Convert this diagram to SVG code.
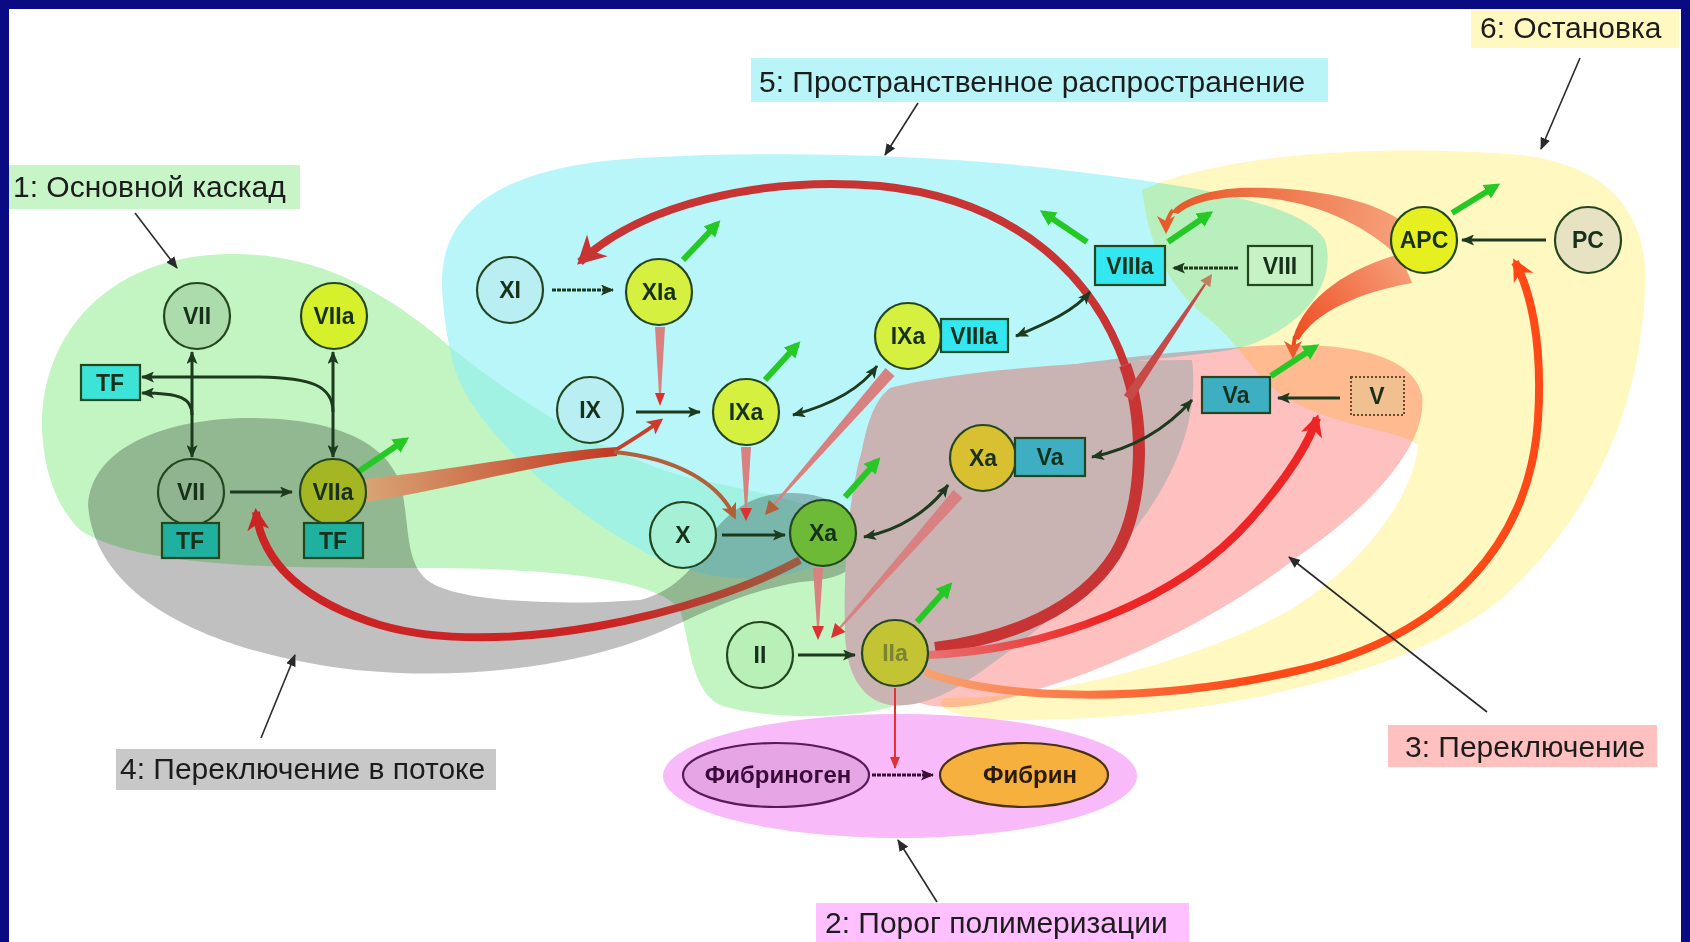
<svg xmlns="http://www.w3.org/2000/svg" width="1690" height="942" viewBox="0 0 1690 942">
<defs>
<style>
.rg{mix-blend-mode:multiply}
.lb{font-family:"Liberation Sans",Arial,sans-serif;font-size:30px;fill:#1c1c1c}
.nt{font-family:"Liberation Sans",Arial,sans-serif;font-size:23px;font-weight:bold;fill:#17301a;text-anchor:middle}
.nc{stroke:#24461f;stroke-width:2.2}
.dk{fill:none;stroke:#1e3a1e;stroke-width:3}
.db{marker-start:url(#md);marker-end:url(#md)}
.sg{marker-end:url(#md)}
.gr{fill:none;stroke:#25c825;stroke-width:6;marker-end:url(#mg)}
.pt{fill:none;stroke:#2a2a2a;stroke-width:1.6;marker-end:url(#mb)}
.ac{fill:#d98080}
.ah{fill:#dd3030}
</style>
<marker id="md" viewBox="0 0 13 11" refX="12" refY="5.5" markerWidth="13" markerHeight="11" markerUnits="userSpaceOnUse" orient="auto-start-reverse"><path d="M0,0 L13,5.5 L0,11 L3,5.5z" fill="#1e3a1e"/></marker>
<marker id="mp" viewBox="0 0 13 11" refX="12" refY="5.5" markerWidth="13" markerHeight="11" markerUnits="userSpaceOnUse" orient="auto"><path d="M0,0 L13,5.5 L0,11 L3,5.5z" fill="#3a103a"/></marker>
<marker id="mg" viewBox="0 0 16 16" refX="11" refY="8" markerWidth="16" markerHeight="16" markerUnits="userSpaceOnUse" orient="auto"><path d="M0,0 L16,8 L0,16z" fill="#25c825"/></marker>
<marker id="mb" viewBox="0 0 12 10" refX="11" refY="5" markerWidth="12" markerHeight="10" markerUnits="userSpaceOnUse" orient="auto"><path d="M0,0 L12,5 L0,10z" fill="#2a2a2a"/></marker>
<marker id="ms" viewBox="0 0 12 10" refX="11" refY="5" markerWidth="12" markerHeight="10" markerUnits="userSpaceOnUse" orient="auto"><path d="M0,0 L12,5 L0,10z" fill="#e03030"/></marker>
<marker id="mr1" viewBox="0 0 28 30" refX="24" refY="15" markerWidth="28" markerHeight="30" markerUnits="userSpaceOnUse" orient="auto"><path d="M0,0 L28,15 L0,30 L8,15z" fill="#c83434"/></marker>
<marker id="mr2" viewBox="0 0 22 22" refX="18" refY="11" markerWidth="22" markerHeight="22" markerUnits="userSpaceOnUse" orient="auto"><path d="M0,0 L22,11 L0,22 L6,11z" fill="#ee2525"/></marker>
<marker id="mr3" viewBox="0 0 22 22" refX="18" refY="11" markerWidth="22" markerHeight="22" markerUnits="userSpaceOnUse" orient="auto"><path d="M0,0 L22,11 L0,22 L6,11z" fill="#ff4515"/></marker>
<marker id="mr4" viewBox="0 0 22 22" refX="18" refY="11" markerWidth="22" markerHeight="22" markerUnits="userSpaceOnUse" orient="auto"><path d="M0,0 L22,11 L0,22 L6,11z" fill="#cc2424"/></marker>
<marker id="mo" viewBox="0 0 18 18" refX="14" refY="9" markerWidth="18" markerHeight="18" markerUnits="userSpaceOnUse" orient="auto"><path d="M0,0 L18,9 L0,18 L5,9z" fill="#e85a2a"/></marker>
<marker id="mrs" viewBox="0 0 16 16" refX="12" refY="8" markerWidth="16" markerHeight="16" markerUnits="userSpaceOnUse" orient="auto"><path d="M0,0 L16,8 L0,16 L4,8z" fill="#d03a2a"/></marker>
<marker id="mbr" viewBox="0 0 16 16" refX="12" refY="8" markerWidth="16" markerHeight="16" markerUnits="userSpaceOnUse" orient="auto"><path d="M0,0 L16,8 L0,16 L4,8z" fill="#b06038"/></marker>
<linearGradient id="gApc" gradientUnits="userSpaceOnUse" x1="930" y1="680" x2="1250" y2="680"><stop offset="0" stop-color="#f8a070"/><stop offset="1" stop-color="#ff4a18"/></linearGradient>
<linearGradient id="gBand" gradientUnits="userSpaceOnUse" x1="365" y1="490" x2="615" y2="450"><stop offset="0" stop-color="#d8a474"/><stop offset="1" stop-color="#c23a22"/></linearGradient>
<linearGradient id="gXv" gradientUnits="userSpaceOnUse" x1="800" y1="560" x2="620" y2="630"><stop offset="0" stop-color="#9a6040"/><stop offset="1" stop-color="#cc2424"/></linearGradient>
<linearGradient id="gAv" gradientUnits="userSpaceOnUse" x1="1400" y1="230" x2="1180" y2="210"><stop offset="0" stop-color="#f6a07a"/><stop offset="1" stop-color="#e85a2a"/></linearGradient>
<linearGradient id="gAva" gradientUnits="userSpaceOnUse" x1="1410" y1="262" x2="1295" y2="345"><stop offset="0" stop-color="#f6a07a"/><stop offset="1" stop-color="#ee4a20"/></linearGradient>
<linearGradient id="gVa" gradientUnits="userSpaceOnUse" x1="930" y1="655" x2="1100" y2="620"><stop offset="0" stop-color="#e87070"/><stop offset="1" stop-color="#ee2525"/></linearGradient>
</defs>

<rect x="0" y="0" width="1690" height="942" fill="#0a0a82"/>

<g id="regions">
<rect x="9" y="9" width="1672" height="933" fill="#ffffff"/>
<path class="rg" fill="#c2f5c2" d="M42,430 C40,340 100,268 200,256 C290,246 360,275 430,330 C500,390 590,450 690,478 C770,495 845,505 875,550 C905,600 930,660 915,695 C890,720 770,722 720,705 C690,690 690,640 680,610 C660,580 560,568 420,568 C300,568 140,570 80,530 C55,505 44,470 42,430 Z"/>
<path fill="#8cf0f7" fill-opacity="0.62" d="M442,285 C440,200 520,165 640,158 C780,150 950,155 1080,172 C1180,185 1300,200 1325,240 C1340,290 1290,338 1230,350 C1150,362 1000,370 910,398 C868,418 855,460 855,540 C800,590 720,585 660,560 C580,520 480,440 455,370 C448,345 443,315 442,285 Z"/>
<path class="rg" fill="#fff8c0" d="M1142,190 C1230,150 1400,145 1520,155 C1610,165 1650,215 1645,290 C1640,400 1600,510 1500,600 C1400,680 1200,720 1020,720 C960,720 930,708 945,698 C1050,700 1200,660 1290,610 C1370,560 1415,490 1418,445 C1400,430 1340,428 1290,400 C1255,380 1245,350 1210,320 C1170,290 1150,250 1142,190 Z"/>
<path class="rg" fill="#ffc0c0" d="M880,660 C868,560 880,450 930,402 C990,372 1100,358 1230,348 C1320,340 1410,345 1422,395 C1428,440 1380,500 1300,555 C1230,610 1120,670 1000,700 C930,718 885,700 880,660 Z"/>
<path class="rg" fill="#c0c0c0" d="M88,505 C92,445 170,418 250,418 C330,418 390,440 402,490 C410,530 405,565 430,582 C460,602 560,606 640,600 C680,590 700,560 715,530 C735,505 760,493 790,493 C830,493 858,510 860,545 C860,575 830,580 800,582 C740,592 700,615 660,632 C560,675 420,682 320,665 C200,645 95,595 88,505 Z"/>
<path fill="#c9b3b3" d="M890,388 C960,370 1100,360 1192,360 C1200,420 1172,480 1140,522 C1100,580 1040,630 990,665 C950,695 920,708 890,705 C860,700 845,670 845,630 C843,560 850,490 862,450 C868,420 875,400 890,388 Z"/>
<ellipse class="rg" cx="900" cy="776" rx="237" ry="62" fill="#f8baf8"/>
</g>

<g id="labels">
<rect x="9" y="165" width="291" height="44" fill="#c8f5c8"/>
<text class="lb" x="13" y="197">1: Основной каскад</text>
<rect x="751" y="58" width="577" height="44" fill="#b8f4f8"/>
<text class="lb" x="759" y="92">5: Пространственное распространение</text>
<rect x="1471" y="9" width="208" height="39" fill="#fff8c0"/>
<text class="lb" x="1480" y="38">6: Остановка</text>
<rect x="116" y="749" width="380" height="41" fill="#c8c8c8"/>
<text class="lb" x="120" y="779">4: Переключение в потоке</text>
<rect x="1388" y="725" width="269" height="42" fill="#ffc0c0"/>
<text class="lb" x="1405" y="757">3: Переключение</text>
<rect x="816" y="903" width="373" height="39" fill="#ffc0ff"/>
<text class="lb" x="825" y="933">2: Порог полимеризации</text>
</g>

<g id="connectors">
<path d="M935,648 C1010,638 1080,610 1115,555 C1145,505 1145,420 1125,365" fill="none" stroke="#c83434" stroke-width="12"/>
<path d="M1125,365 C1095,280 1020,200 880,186 C760,176 640,205 580,262" fill="none" stroke="#c83434" stroke-width="8" marker-end="url(#mr1)"/>
<polygon points="1123.9,395.2 1132.1,400.8 1206.1,284.5 1204.5,283.3" fill="#c84a48"/>
<polygon points="1212,274 1210.3,287.3 1200.3,280.5" fill="#c08060"/>
<path d="M928,655 C1050,650 1180,600 1250,520 C1290,475 1310,440 1317,418" fill="none" stroke="url(#gVa)" stroke-width="8" marker-end="url(#mr2)"/>
<path d="M925,672 C1000,700 1150,705 1300,670 C1450,635 1530,540 1538,420 C1543,340 1530,290 1515,262" fill="none" stroke="url(#gApc)" stroke-width="8" marker-end="url(#mr3)"/>
<path d="M800,560 C700,615 500,660 380,625 C300,600 262,560 256,512" fill="none" stroke="url(#gXv)" stroke-width="8" marker-end="url(#mr4)"/>
<path d="M365,479 C450,470 540,452 617,447 L617,456 C540,462 450,490 365,502 Z" fill="url(#gBand)"/>
<path d="M614,451 C632,440 648,430 660,421" fill="none" stroke="#c8402a" stroke-width="4" marker-end="url(#mrs)"/>
<path d="M614,452 C675,458 718,482 734,516" fill="none" stroke="#b0603a" stroke-width="4" marker-end="url(#mbr)"/>
<path d="M1400,220 C1370,200 1310,186 1240,188 C1205,190 1180,200 1172,212 L1178,214 C1190,204 1210,198 1240,197 C1310,196 1365,225 1398,256 Z" fill="url(#gAv)"/>
<path d="M1173,210 C1168,216 1166,222 1166,230" fill="none" stroke="#e85a2a" stroke-width="4" marker-end="url(#mo)"/>
<path d="M1400,254 C1350,268 1306,295 1293,338 L1299,340 C1315,312 1360,292 1412,283 Z" fill="url(#gAva)"/>
<path d="M1295,336 C1294,342 1293,347 1293,355" fill="none" stroke="#ee4a20" stroke-width="4" marker-end="url(#mo)"/>
<polygon class="ac" points="655,327 665,327 661,394 659,394"/>
<polygon class="ah" points="655,393 665,393 660,406"/>
<polygon class="ac" points="741,447 751,447 747,510 745,510"/>
<polygon class="ah" points="740,508 752,508 746,521"/>
<polygon class="ac" points="885.5,368.1 894.5,375.9 774.9,505.0 773.4,503.8"/>
<polygon points="765,515 779.4,509.0 768.8,499.8" fill="#b0603a"/>
<polygon class="ac" points="813,568 823,568 819,628 817,628"/>
<polygon class="ah" points="812,626 824,626 818,640"/>
<polygon class="ac" points="953.5,490.0 962.5,498.0 841.0,628.2 839.5,626.8"/>
<polygon class="ah" points="831,638 845.5,632.1 835.0,622.9"/>
<path d="M895,688 L895,768" fill="none" stroke="#e83030" stroke-width="2" marker-end="url(#ms)"/>
<path class="dk sg" d="M230,492 L292,492"/>
<path class="dk db" d="M192,352 L192,457"/>
<path class="dk db" d="M333,352 L333,457"/>
<path class="dk sg" d="M333,412 C333,385 310,378 260,377 L142,377"/>
<path class="dk sg" d="M192,415 C192,398 180,393 142,393"/>
<path class="dk sg" d="M552,290 L613,290" stroke-dasharray="4,1"/>
<path class="dk sg" d="M636,412 L700,412"/>
<path class="dk sg" d="M722,535 L785,535"/>
<path class="dk sg" d="M798,655 L855,655"/>
<path class="dk db" d="M793,415 C830,405 860,390 877,366"/>
<path class="dk db" d="M1016,336 C1050,322 1075,310 1090,292"/>
<path class="dk db" d="M864,537 C900,530 930,510 948,485"/>
<path class="dk db" d="M1092,457 C1140,447 1170,425 1192,400"/>
<path class="dk sg" d="M1238,268 L1173,268" stroke-dasharray="4,1"/>
<path class="dk sg" d="M1340,398 L1278,398"/>
<path class="dk sg" d="M1546,240 L1462,240"/>
<path d="M872,775 L933,775" fill="none" stroke="#3a103a" stroke-width="3" stroke-dasharray="4,1" marker-end="url(#mp)"/>
<path class="gr" d="M358,472 L405,440"/>
<path class="gr" d="M683,260 L717,224"/>
<path class="gr" d="M765,380 L797,345"/>
<path class="gr" d="M845,497 L877,461"/>
<path class="gr" d="M917,622 L949,586"/>
<path class="gr" d="M1087,242 L1044,213"/>
<path class="gr" d="M1168,242 L1209,214"/>
<path class="gr" d="M1452,213 L1496,186"/>
<path class="gr" d="M1271,376 L1315,347"/>
<path class="pt" d="M135,213 L177,268"/>
<path class="pt" d="M918,103 L885,155"/>
<path class="pt" d="M1580,58 L1541,149"/>
<path class="pt" d="M261,738 L295,655"/>
<path class="pt" d="M1487,712 L1289,557"/>
<path class="pt" d="M937,902 L898,840"/>
</g>

<g id="n-VII-top"><circle class="nc" cx="197" cy="316" r="33" fill="#acdcac"/><text class="nt" x="197" y="324">VII</text></g>
<g id="n-VIIa-top"><circle class="nc" cx="334" cy="316" r="33" fill="#d6f02c"/><text class="nt" x="334" y="324">VIIa</text></g>
<g id="n-TF"><rect class="nc" x="81" y="365" width="59" height="35" fill="#3ce4d8"/><text class="nt" x="110" y="391">TF</text></g>
<g id="n-VII-TF"><circle class="nc" cx="191" cy="492" r="33" fill="#8fb48f"/><text class="nt" x="191" y="500">VII</text><rect class="nc" x="162" y="523" width="57" height="35" fill="#1fb0a0"/><text class="nt" x="190" y="549">TF</text></g>
<g id="n-VIIa-TF"><circle class="nc" cx="333" cy="492" r="33" fill="#a4b622"/><text class="nt" x="333" y="500">VIIa</text><rect class="nc" x="304" y="523" width="59" height="35" fill="#1fb0a0"/><text class="nt" x="333" y="549">TF</text></g>
<g id="n-XI"><circle class="nc" cx="510" cy="290" r="33" fill="#b9eef2"/><text class="nt" x="510" y="298">XI</text></g>
<g id="n-XIa"><circle class="nc" cx="659" cy="292" r="33" fill="#d6f040"/><text class="nt" x="659" y="300">XIa</text></g>
<g id="n-IX"><circle class="nc" cx="590" cy="410" r="33" fill="#b9eef2"/><text class="nt" x="590" y="418">IX</text></g>
<g id="n-IXa"><circle class="nc" cx="746" cy="412" r="33" fill="#d6f040"/><text class="nt" x="746" y="420">IXa</text></g>
<g id="n-IXa-VIIIa"><circle class="nc" cx="908" cy="336" r="33" fill="#d6f040"/><text class="nt" x="908" y="344">IXa</text><rect class="nc" x="941" y="319" width="67" height="33" fill="#33e6f0"/><text class="nt" x="974" y="344">VIIIa</text></g>
<g id="n-X"><circle class="nc" cx="683" cy="535" r="33" fill="#a6f0d6"/><text class="nt" x="683" y="543">X</text></g>
<g id="n-Xa"><circle class="nc" cx="823" cy="533" r="33" fill="#6cba36"/><text class="nt" x="823" y="541">Xa</text></g>
<g id="n-Xa-Va"><circle class="nc" cx="983" cy="458" r="33" fill="#d8c030"/><text class="nt" x="983" y="466">Xa</text><rect class="nc" x="1015" y="438" width="70" height="38" fill="#3eaec2"/><text class="nt" x="1050" y="465">Va</text></g>
<g id="n-II"><circle class="nc" cx="760" cy="655" r="33" fill="#b8f0b8"/><text class="nt" x="760" y="663">II</text></g>
<g id="n-IIa"><circle class="nc" cx="895" cy="653" r="33" fill="#c2c434"/><text class="nt" x="895" y="661" style="fill:#7c8434">IIa</text></g>
<g id="n-VIIIa"><rect class="nc" x="1095" y="246" width="70" height="39" fill="#33e6f0"/><text class="nt" x="1130" y="274">VIIIa</text></g>
<g id="n-VIII"><rect class="nc" x="1248" y="246" width="64" height="39" fill="#c6f2c6"/><text class="nt" x="1280" y="274">VIII</text></g>
<g id="n-APC"><circle class="nc" cx="1424" cy="240" r="33" fill="#e6f020"/><text class="nt" x="1424" y="248">APC</text></g>
<g id="n-PC"><circle class="nc" cx="1588" cy="240" r="33" fill="#e6e2c2"/><text class="nt" x="1588" y="248">PC</text></g>
<g id="n-Va"><rect class="nc" x="1202" y="377" width="68" height="36" fill="#3eaec2"/><text class="nt" x="1236" y="403">Va</text></g>
<g id="n-V"><rect x="1351" y="377" width="53" height="38" fill="#f0c090" stroke="#6a4a2a" stroke-width="2" stroke-dasharray="2,2"/><text class="nt" x="1377" y="404">V</text></g>
<g id="n-Fibrinogen"><ellipse cx="776" cy="775" rx="93" ry="32" fill="#e6a6e6" stroke="#5a1a5a" stroke-width="2.2"/><text class="nt" x="778" y="783" style="font-size:24px;fill:#3a0a3a">Фибриноген</text></g>
<g id="n-Fibrin"><ellipse cx="1024" cy="775" rx="84" ry="32" fill="#f6b03e" stroke="#4a3010" stroke-width="2.2"/><text class="nt" x="1030" y="783" style="font-size:24px;fill:#2a1a0a">Фибрин</text></g>
</svg>
